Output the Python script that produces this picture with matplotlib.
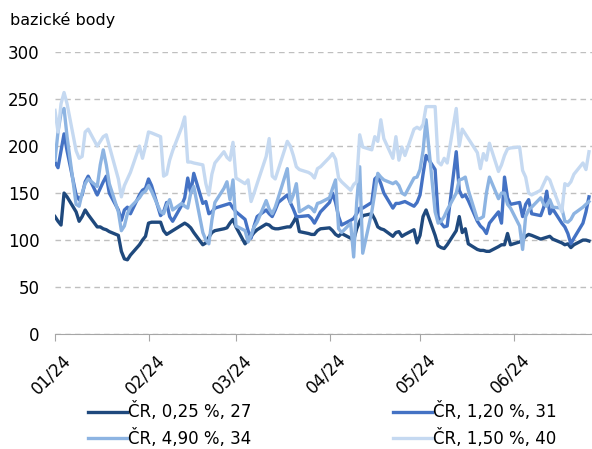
import numpy as np
import pandas as pd
import matplotlib
matplotlib.use('Agg')
import matplotlib.pyplot as plt
import matplotlib.dates as mdates
import matplotlib.transforms as mtransforms

# trading days Jan 1 - Jun 26 2024
dates = pd.bdate_range('2024-01-01', '2024-06-26')

# CR, 0,25 %, 27
s025_jan = [125, 120, 116, 150, 146, 130, 120, 125, 132, 127, 114, 114, 112, 111, 109, 105, 88, 80, 79, 84, 95, 100, 104]
s025_feb = [118, 119, 119, 110, 106, 108, 110, 116, 118, 116, 113, 108, 95, 97, 103, 108, 110, 112, 113, 118, 122]
s025_mar = [114, 96, 100, 104, 108, 111, 117, 116, 113, 112, 112, 114, 114, 119, 125, 109, 107, 106, 106, 110, 112]
s025_apr = [113, 110, 106, 104, 107, 102, 100, 112, 120, 126, 128, 122, 114, 112, 111, 104, 108, 109, 104, 106, 111, 97]
s025_may = [105, 125, 132, 105, 94, 92, 91, 95, 110, 125, 108, 112, 96, 90, 89, 89, 88, 88, 93, 95, 95, 107, 95]
s025_jun = [98, 100, 104, 106, 105, 101, 102, 103, 104, 101, 97, 95, 96, 92, 95, 100, 100, 99]

# CR, 1,20 %, 31
s120_jan = [183, 177, 195, 213, 195, 148, 143, 148, 162, 168, 148, 155, 162, 168, 150, 132, 121, 132, 135, 128, 148, 153, 155]
s120_feb = [165, 158, 126, 130, 140, 125, 120, 137, 145, 166, 150, 171, 139, 141, 128, 130, 134, 137, 138, 139, 134]
s120_mar = [130, 122, 110, 102, 115, 125, 132, 128, 125, 132, 140, 148, 140, 133, 125, 125, 126, 123, 118, 124, 130]
s120_apr = [140, 150, 140, 125, 116, 121, 123, 128, 134, 134, 140, 165, 168, 160, 150, 134, 139, 139, 140, 141, 136, 140]
s120_may = [148, 170, 190, 175, 125, 118, 114, 115, 194, 153, 146, 148, 142, 120, 115, 112, 107, 118, 130, 118, 167, 145, 138]
s120_jun = [140, 125, 138, 143, 128, 126, 135, 152, 128, 133, 118, 114, 107, 96, 102, 118, 130, 146]

# CR, 4,90 %, 34
s490_jan = [185, 215, 235, 240, 210, 138, 136, 150, 160, 165, 157, 180, 196, 180, 160, 130, 110, 115, 128, 135, 145, 150, 152]
s490_feb = [158, 152, 130, 128, 137, 143, 132, 139, 136, 134, 150, 157, 108, 100, 96, 121, 140, 155, 162, 143, 164]
s490_mar = [115, 110, 98, 105, 114, 119, 142, 133, 128, 135, 145, 176, 140, 148, 160, 130, 136, 134, 130, 139, 140]
s490_apr = [145, 155, 164, 112, 108, 118, 82, 140, 178, 86, 130, 150, 171, 167, 164, 160, 162, 158, 150, 148, 166, 167]
s490_may = [175, 195, 228, 130, 118, 120, 125, 132, 150, 164, 165, 167, 153, 122, 123, 125, 150, 167, 144, 150, 150, 138, 134]
s490_jun = [115, 90, 125, 132, 135, 145, 138, 136, 143, 135, 134, 120, 119, 122, 128, 135, 138, 141]

# CR, 1,50 %, 40
s150_jan = [238, 215, 245, 257, 245, 195, 187, 189, 215, 218, 200, 205, 210, 212, 200, 165, 146, 158, 165, 172, 200, 187, 200]
s150_feb = [215, 214, 210, 168, 170, 185, 195, 220, 231, 183, 183, 182, 180, 160, 148, 170, 182, 194, 188, 185, 204]
s150_mar = [166, 160, 164, 141, 150, 160, 189, 208, 168, 165, 175, 205, 200, 190, 178, 175, 172, 170, 166, 176, 178]
s150_apr = [188, 192, 186, 166, 162, 153, 159, 162, 212, 199, 196, 210, 205, 228, 208, 187, 210, 185, 199, 190, 218, 220]
s150_may = [218, 223, 242, 242, 183, 180, 187, 182, 240, 200, 218, 213, 208, 193, 176, 192, 185, 203, 173, 180, 190, 197, 198]
s150_jun = [199, 174, 167, 150, 148, 153, 160, 167, 164, 155, 130, 160, 158, 162, 170, 182, 175, 194]

labels = ['ČR, 0,25 %, 27', 'ČR, 1,20 %, 31', 'ČR, 4,90 %, 34', 'ČR, 1,50 %, 40']
colors = ['#1F497D', '#4472C4', '#8DB4E2', '#C5D9F1']

series = [
    s025_jan + s025_feb + s025_mar + s025_apr + s025_may + s025_jun,
    s120_jan + s120_feb + s120_mar + s120_apr + s120_may + s120_jun,
    s490_jan + s490_feb + s490_mar + s490_apr + s490_may + s490_jun,
    s150_jan + s150_feb + s150_mar + s150_apr + s150_may + s150_jun,
]

fig = plt.figure(figsize=(5.92, 4.49), dpi=100)
ax = fig.add_axes([0.0929, 0.256, 0.9071, 0.628])

lines = []
for vals, lab, col in zip(series, labels, colors):
    l, = ax.plot(dates, vals, color=col, lw=2.4, label=lab, solid_joinstyle='round')
    lines.append(l)

ax.set_ylim(0, 300)
ax.set_yticks(range(0, 301, 50))
ax.set_xlim(pd.Timestamp('2024-01-01'), pd.Timestamp('2024-06-27'))
ax.xaxis.set_major_locator(mdates.MonthLocator())
ax.xaxis.set_major_formatter(mdates.DateFormatter('%m/%y'))

ax.grid(axis='y', color='#BFBFBF', linestyle=(0, (4, 3)), lw=1)
ax.set_axisbelow(True)
for s in ['left', 'top', 'right']:
    ax.spines[s].set_visible(False)
ax.spines['bottom'].set_color('#A6A6A6')
ax.tick_params(axis='y', length=0, pad=11, labelsize=12, labelcolor='#000000')
ax.tick_params(axis='x', length=5, color='#A6A6A6', pad=7, labelsize=12)
shift = mtransforms.ScaledTranslation(5 / 72, 0, fig.dpi_scale_trans)
for t in ax.get_xticklabels():
    t.set_rotation(45)
    t.set_ha('right')
    t.set_rotation_mode('anchor')
    t.set_transform(t.get_transform() + shift)

fig.text(0.017, 0.955, 'bazické body', fontsize=11.5, va='center', ha='left')

# legend filled row by row like the original
order = [0, 2, 1, 3]
fig.legend(handles=[lines[i] for i in order], ncol=2, loc='center', bbox_to_anchor=(0.545, 0.053),
           frameon=False, fontsize=12, handlelength=2.3, handletextpad=0.1,
           columnspacing=8.5, labelspacing=0.45)

fig.savefig('out.png', dpi=100)
